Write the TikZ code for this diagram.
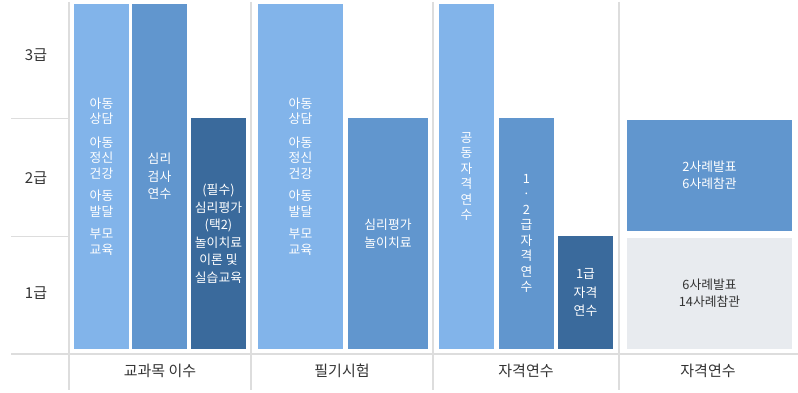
\documentclass[tikz,border=0pt]{standalone}
\usepackage{fontspec}
\setmainfont{Noto Sans CJK KR}
\definecolor{barlight}{HTML}{82B4EA}
\definecolor{barmid}{HTML}{6196CE}
\definecolor{bardark}{HTML}{3A6A9C}
\definecolor{boxgray}{HTML}{E8EBEF}
\definecolor{gridgray}{HTML}{DDDDDD}
\definecolor{labelgray}{HTML}{333333}
\newcommand{\barfont}{\fontsize{12.8}{17.5}\selectfont}
\newcommand{\stackfont}{\fontsize{12.8}{15.5}\selectfont}
\tikzset{
  bar/.style={anchor=north west,inner sep=0pt,outer sep=0pt,text=white,align=center,font=\barfont},
  lightbar/.style={bar,fill=barlight},
  midbar/.style={bar,fill=barmid},
  darkbar/.style={bar,fill=bardark},
  graybox/.style={bar,fill=boxgray,text=labelgray},
  axislabel/.style={text=labelgray,font=\fontsize{15}{17}\selectfont},
  grid/.style={draw=gridgray,line width=2pt}
}
\begin{document}
\begin{tikzpicture}[x=1pt,y=-1pt]
\useasboundingbox (0,0) rectangle (798,393);
% grid
\foreach \y in {119,236}
  \draw [grid,line width=1pt] (11,\y) -- (68,\y);
\draw [grid] (11,354) -- (798,354);
\foreach \x in {69,251,433,619}
  \draw [grid] (\x,2) -- (\x,390);
% grades
\foreach \g/\y in {3/55,2/178,1/293}
  \node [axislabel] (grade\g) at (36,\y) {\g{}급};
% 교과목 이수
\node [lightbar,minimum width=55pt,minimum height=345pt,font=\stackfont] (kb1) at (74,4)
  {아동\\상담\\[8pt]아동\\정신\\건강\\[7pt]아동\\발달\\[7pt]부모\\교육};
\node [midbar,minimum width=55pt,minimum height=345pt] (kb2) at (132,4) {심리\\검사\\연수};
\node [darkbar,minimum width=55pt,minimum height=231pt] (kb3) at (191,118)
  {(필수)\\심리평가\\(택2)\\놀이치료\\이론 및\\실습교육};
% 필기시험
\node [lightbar,minimum width=85pt,minimum height=345pt,font=\stackfont] (pb1) at (258,4)
  {아동\\상담\\[8pt]아동\\정신\\건강\\[7pt]아동\\발달\\[7pt]부모\\교육};
\node [midbar,minimum width=80pt,minimum height=231pt] (pb2) at (348,118) {심리평가\\놀이치료};
% 자격연수
\node [lightbar,minimum width=55pt,minimum height=345pt,font=\stackfont] (jb1) at (439,4)
  {공\\동\\자\\격\\연\\수};
\node [midbar,minimum width=55pt,minimum height=231pt,font=\stackfont] (jb2) at (499,118)
  {1\\·\\2\\급\\자\\격\\연\\수};
\node [darkbar,minimum width=55pt,minimum height=113pt,font=\fontsize{12.8}{18.5}\selectfont] (jb3) at (558,236)
  {1급\\자격\\연수};
% 사례
\node [midbar,minimum width=165pt,minimum height=111pt,font=\fontsize{12.8}{17}\selectfont] (sb1) at (627,120)
  {2사례발표\\6사례참관};
\node [graybox,minimum width=165pt,minimum height=111pt,font=\fontsize{12.8}{17}\selectfont] (sb2) at (627,238)
  {6사례발표\\14사례참관};
% categories
\foreach \t/\x [count=\i] in {교과목 이수/160,필기시험/342,자격연수/526,자격연수/708}
  \node [axislabel] (cat\i) at (\x,371) {\t};
\end{tikzpicture}
\end{document}
